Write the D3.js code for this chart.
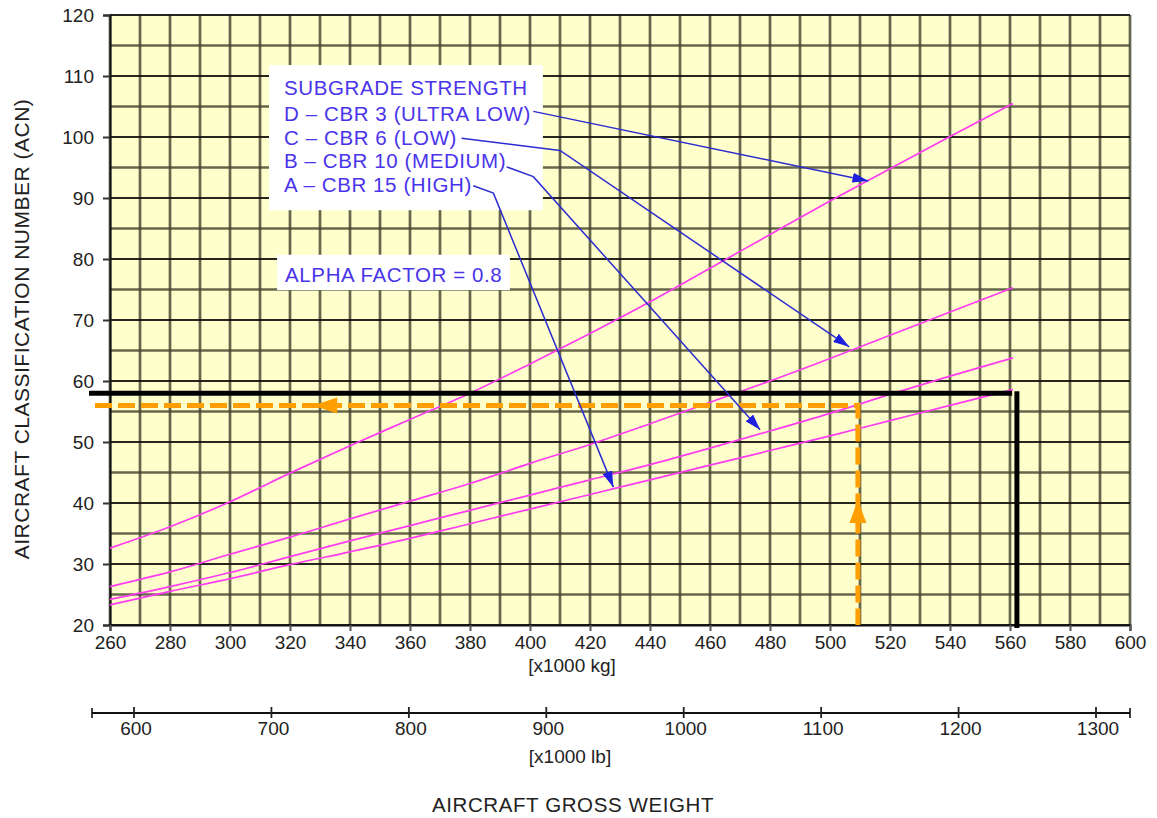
<!DOCTYPE html>
<html>
<head>
<meta charset="utf-8">
<script src="https://cdn.jsdelivr.net/npm/d3@7"></script>
<style>
  html, body { margin: 0; padding: 0; background: #ffffff; }
  svg { display: block; }
  text { font-family: "Liberation Sans", Arial, Helvetica, sans-serif; }
</style>
</head>
<body>
<svg id="chart" width="1157" height="818"></svg>
<script>
// ---------------- DATA ----------------
const kgTicks = [260, 280, 300, 320, 340, 360, 380, 400, 420, 440, 460, 480, 500, 520, 540, 560, 580, 600];
const acnTicks = [20, 30, 40, 50, 60, 70, 80, 90, 100, 110, 120];
const lbTicks = [600, 700, 800, 900, 1000, 1100, 1200, 1300];

const weightsKg = [260, 280, 300, 320, 340, 360, 380, 400, 420, 440, 460, 480, 500, 520, 540, 561];
const acnD = [32.6, 36.1, 40.2, 44.9, 49.4, 53.7, 58.0, 62.8, 67.8, 73.0, 78.5, 84.0, 89.5, 94.8, 100.1, 105.5];
const acnC = [26.3, 28.7, 31.6, 34.4, 37.4, 40.3, 43.2, 46.5, 49.6, 53.0, 56.5, 60.0, 63.7, 67.5, 71.3, 75.3];
const acnB = [24.2, 26.3, 28.6, 31.2, 33.8, 36.3, 38.8, 41.3, 43.8, 46.3, 49.0, 51.8, 54.7, 57.8, 60.8, 63.8];
const acnA = [23.3, 25.5, 27.6, 29.9, 32.0, 34.2, 36.6, 39.0, 41.4, 43.8, 46.2, 48.6, 51.0, 53.5, 56.0, 58.6];

const legendLines = ["SUBGRADE STRENGTH", "D \u2013 CBR 3 (ULTRA LOW)", "C \u2013 CBR 6 (LOW)", "B \u2013 CBR 10 (MEDIUM)", "A \u2013 CBR 15 (HIGH)"];
const alphaLabel = "ALPHA FACTOR = 0.8";

// reference lines (kg, ACN)
const maxWeightKg = 562.3, maxAcn = 58.0, maxStartKg = 253;
const exampleWeightKg = 509.3, exampleAcn = 56.0;

// annotation arrows in data coordinates [kg, ACN]
const arrowD = [[401.1, 104.2], [512.8, 92.8]];
const arrowC = [[377.2, 99.8], [410.0, 97.8], [506.4, 65.6]];
const arrowB = [[392.2, 95.1], [401.1, 93.5], [476.7, 52.0]];
const arrowA = [[381.1, 92.0], [387.8, 90.8], [427.8, 42.6]];

// ---------------- LAYOUT ----------------
const svg = d3.select("#chart");
const x = d3.scaleLinear().domain([260, 600]).range([110, 1130]);
const y = d3.scaleLinear().domain([20, 120]).range([625, 15]);
const xLb = d3.scaleLinear().domain([600, 1300]).range([134, 1096]);

const blueText = "#4a34ea";
const blueArrow = "#2c2ccf";
const pink = "#ff3cf0";
const orange = "#ff9e00";

// background
svg.append("rect").attr("x", x(260)).attr("y", y(120))
  .attr("width", x(600) - x(260)).attr("height", y(20) - y(120))
  .attr("fill", "#ffffcc");

// grid
const grid = svg.append("g");
d3.range(260, 601, 10).forEach(v => {
  grid.append("line").attr("x1", x(v)).attr("x2", x(v)).attr("y1", y(120)).attr("y2", y(20))
    .attr("stroke", "#44442f").attr("stroke-width", 2.7).attr("stroke-opacity", 0.82);
});
d3.range(20, 121, 5).forEach(v => {
  const major = v % 10 === 0;
  grid.append("line").attr("x1", x(260)).attr("x2", x(600)).attr("y1", y(v)).attr("y2", y(v))
    .attr("stroke", major ? "#14140f" : "#44442f")
    .attr("stroke-width", major ? 2 : 2.7).attr("stroke-opacity", major ? 0.92 : 0.82);
});

// axes
const yAxis = svg.append("g").attr("transform", `translate(${x(260)},0)`)
  .call(d3.axisLeft(y).tickValues(acnTicks).tickSize(7).tickPadding(9).tickFormat(d3.format("d")));
yAxis.select(".domain").attr("stroke", "#111").attr("stroke-width", 2);
yAxis.selectAll(".tick line").attr("stroke", "#333").attr("stroke-width", 2);
yAxis.selectAll(".tick text").attr("font-size", 19).attr("fill", "#222")
  .attr("font-family", "Liberation Sans, Arial, sans-serif");

const xAxis = svg.append("g").attr("transform", `translate(0,${y(20)})`)
  .call(d3.axisBottom(x).tickValues(kgTicks).tickSize(6).tickPadding(5).tickFormat(d3.format("d")));
xAxis.select(".domain").attr("stroke", "#111").attr("stroke-width", 2);
xAxis.selectAll(".tick line").attr("stroke", "#555").attr("stroke-width", 2);
xAxis.selectAll(".tick text").attr("font-size", 19).attr("fill", "#222")
  .attr("font-family", "Liberation Sans, Arial, sans-serif");

// ACN curves
const line = d3.line().x(d => x(d[0])).y(d => y(d[1])).curve(d3.curveMonotoneX);
[acnD, acnC, acnB, acnA].forEach(series => {
  svg.append("path").datum(weightsKg.map((w, i) => [w, series[i]]))
    .attr("d", line).attr("fill", "none").attr("stroke", pink).attr("stroke-width", 1.7);
});

// black max-weight lines
svg.append("line").attr("x1", x(maxStartKg)).attr("x2", x(maxWeightKg - 1.6))
  .attr("y1", y(maxAcn)).attr("y2", y(maxAcn))
  .attr("stroke", "#000").attr("stroke-width", 5);
svg.append("line").attr("x1", x(maxWeightKg)).attr("x2", x(maxWeightKg))
  .attr("y1", y(maxAcn) - 2).attr("y2", y(20) + 3)
  .attr("stroke", "#000").attr("stroke-width", 5);

// orange example lines
svg.append("path")
  .attr("d", `M${x(maxStartKg)},${y(exampleAcn)} L${x(exampleWeightKg)},${y(exampleAcn)} L${x(exampleWeightKg)},${y(20)}`)
  .attr("fill", "none").attr("stroke", orange).attr("stroke-width", 5)
  .attr("stroke-dasharray", "17,6").attr("stroke-dashoffset", -6);
// orange arrowheads
const hx = x(327.7), hy = y(exampleAcn);
svg.append("path").attr("d", `M${hx},${hy} L${hx + 24},${hy - 8} L${hx + 24},${hy + 8} Z`).attr("fill", orange);
const vx = x(exampleWeightKg), vy = y(40.5);
svg.append("path").attr("d", `M${vx},${vy} L${vx - 8.5},${vy + 23} L${vx + 8.5},${vy + 23} Z`).attr("fill", orange);

// legend box
const box = svg.append("g");
box.append("rect").attr("x", x(313)).attr("y", y(111.8))
  .attr("width", x(404.3) - x(313)).attr("height", y(88.0) - y(111.8)).attr("fill", "#fff");
const legendBaselines = [95, 121, 144.5, 168, 191.5];
legendLines.forEach((t, i) => {
  box.append("text").attr("x", x(313) + 15).attr("y", legendBaselines[i])
    .attr("font-size", 20.5).attr("letter-spacing", 0.6).attr("fill", blueText).text(t);
});
box.append("rect").attr("x", x(315.7)).attr("y", y(80.7))
  .attr("width", x(393.3) - x(315.7)).attr("height", y(74.9) - y(80.7)).attr("fill", "#fff");
box.append("text").attr("x", x(315.7) + 8).attr("y", 281.5)
  .attr("font-size", 20.5).attr("letter-spacing", 0.6).attr("fill", blueText).text(alphaLabel);

// blue arrows
const defs = svg.append("defs");
defs.append("marker").attr("id", "bluehead").attr("viewBox", "0 0 16 10")
  .attr("refX", 16).attr("refY", 5).attr("markerWidth", 16).attr("markerHeight", 10)
  .attr("markerUnits", "userSpaceOnUse").attr("orient", "auto")
  .append("path").attr("d", "M0,0 L16,5 L0,10 Z").attr("fill", "#1f1fe0");
const aLine = d3.line().x(d => x(d[0])).y(d => y(d[1]));
[arrowD, arrowC, arrowB, arrowA].forEach(pts => {
  svg.append("path").attr("d", aLine(pts)).attr("fill", "none")
    .attr("stroke", blueArrow).attr("stroke-width", 1.5).attr("marker-end", "url(#bluehead)");
});

// lb axis
const lbY = 713;
const lb = svg.append("g");
lb.append("line").attr("x1", 92).attr("x2", 1130).attr("y1", lbY).attr("y2", lbY)
  .attr("stroke", "#111").attr("stroke-width", 2.2);
[92, 1130].forEach(px => {
  lb.append("line").attr("x1", px).attr("x2", px).attr("y1", lbY - 5).attr("y2", lbY + 5)
    .attr("stroke", "#111").attr("stroke-width", 1.6);
});
lbTicks.forEach(v => {
  lb.append("line").attr("x1", xLb(v)).attr("x2", xLb(v)).attr("y1", lbY - 6).attr("y2", lbY + 5)
    .attr("stroke", "#222").attr("stroke-width", 1.8);
  lb.append("text").attr("x", xLb(v) + 2).attr("y", lbY + 22).attr("text-anchor", "middle")
    .attr("font-size", 19).attr("fill", "#222").text(v);
});

// axis titles
svg.append("text").attr("x", 572).attr("y", 672).attr("text-anchor", "middle")
  .attr("font-size", 19).attr("fill", "#222").text("[x1000 kg]");
svg.append("text").attr("x", 570).attr("y", 763).attr("text-anchor", "middle")
  .attr("font-size", 19).attr("fill", "#222").text("[x1000 lb]");
svg.append("text").attr("x", 573).attr("y", 812).attr("text-anchor", "middle")
  .attr("font-size", 20.5).attr("letter-spacing", 0.6).attr("fill", "#222").text("AIRCRAFT GROSS WEIGHT");
svg.append("text").attr("transform", "translate(29,329) rotate(-90)").attr("text-anchor", "middle")
  .attr("font-size", 21).attr("letter-spacing", 0.5).attr("fill", "#222").text("AIRCRAFT CLASSIFICATION NUMBER (ACN)");
</script>
</body>
</html>
